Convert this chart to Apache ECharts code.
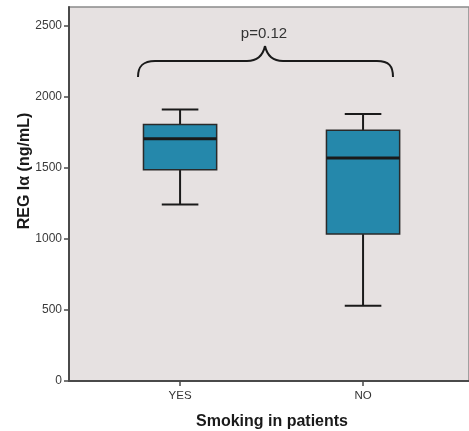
<!DOCTYPE html>
<html><head><meta charset="utf-8">
<script src="https://cdn.jsdelivr.net/npm/echarts@6/dist/echarts.min.js"></script>
<style>html,body{margin:0;padding:0;background:#fff}#c{width:469px;height:431px}</style>
</head><body><div id="c"></div>
<script>
const categories = ['YES', 'NO'];
const whiskerLow = [1242, 530];
const q1 = [1486, 1033];
const median = [1704, 1568];
const q3 = [1803, 1763];
const whiskerHigh = [1910, 1878];
const yTicks = [0, 500, 1000, 1500, 2000, 2500];
const pLabel = 'p=0.12';
const xName = 'Smoking in patients';
const yName = 'REG I\u03b1 (ng/mL)';

const FONT = '"Liberation Sans", Arial, sans-serif';
const chart = echarts.init(document.getElementById('c'), null, {renderer: 'canvas'});

const boxData = categories.map((c, i) => [i + 1, whiskerLow[i], q1[i], median[i], q3[i], whiskerHigh[i]]);

function renderBox(params, api) {
  const x = api.value(0);
  const pLow = api.coord([x, api.value(1)]);
  const pQ1 = api.coord([x, api.value(2)]);
  const pMed = api.coord([x, api.value(3)]);
  const pQ3 = api.coord([x, api.value(4)]);
  const pHigh = api.coord([x, api.value(5)]);
  const w = api.size([0.4, 0])[0];
  const hw = w / 2, cw = w / 4;
  const cx = pMed[0];
  const line = (x1, y1, x2, y2, lw) => ({
    type: 'line', shape: {x1, y1, x2, y2},
    style: {stroke: '#1a1a1a', lineWidth: lw}
  });
  return {
    type: 'group',
    children: [
      line(cx, pQ3[1], cx, pHigh[1], 2),
      line(cx, pQ1[1], cx, pLow[1], 2),
      line(cx - cw, pHigh[1], cx + cw, pHigh[1], 2),
      line(cx - cw, pLow[1], cx + cw, pLow[1], 2),
      {type: 'rect', shape: {x: cx - hw, y: pQ3[1], width: w, height: pQ1[1] - pQ3[1]},
       style: {fill: '#2588ab', stroke: '#2a2a2a', lineWidth: 1.5}},
      line(cx - hw, pMed[1], cx + hw, pMed[1], 3)
    ]
  };
}

const braceStyle = {fill: null, stroke: '#1a1a1a', lineWidth: 2};
function bez(x1, y1, cpx1, cpy1, cpx2, cpy2, x2, y2) {
  return {type: 'bezierCurve', z: 10, shape: {x1, y1, cpx1, cpy1, cpx2, cpy2, x2, y2}, style: braceStyle};
}
function seg(x1, y1, x2, y2) {
  return {type: 'line', z: 10, shape: {x1, y1, x2, y2}, style: braceStyle};
}

const option = {
  backgroundColor: '#ffffff',
  animation: false,
  grid: {left: 69, right: 0, top: 7, bottom: 50, show: true,
         backgroundColor: '#e6e1e1', borderColor: '#8a8a8a', borderWidth: 1.5},
  xAxis: {
    type: 'value', min: 0.393, max: 2.579,
    splitLine: {show: false},
    axisLine: {show: true, onZero: false, lineStyle: {color: '#4a4a4a', width: 2}},
    axisTick: {show: true, length: 5, customValues: [1, 2], lineStyle: {color: '#4a4a4a', width: 1.5}},
    axisLabel: {show: true, customValues: [1, 2], margin: 9, fontSize: 11.5, color: '#333',
                fontFamily: FONT, formatter: v => categories[Math.round(v) - 1]}
  },
  yAxis: {
    type: 'value', min: 0, max: 2630,
    splitLine: {show: false},
    axisLine: {show: true, lineStyle: {color: '#4a4a4a', width: 2}},
    axisTick: {show: true, length: 5, customValues: yTicks, lineStyle: {color: '#4a4a4a', width: 1.5}},
    axisLabel: {show: true, customValues: yTicks, margin: 7, fontSize: 12, color: '#3a3a3a', fontFamily: FONT,
                formatter: v => String(v)}
  },
  series: [{
    type: 'custom',
    renderItem: renderBox,
    data: boxData,
    encode: {x: 0, y: [1, 2, 3, 4, 5]},
    z: 5
  }],
  graphic: [
    bez(138, 77, 138, 66, 143, 61, 155, 61),
    seg(155, 61, 247, 61),
    bez(247, 61, 258, 61, 263, 55, 265, 46),
    bez(265, 46, 267, 55, 272, 61, 283, 61),
    seg(283, 61, 377, 61),
    bez(377, 61, 389, 61, 393, 66, 393, 77),
    {type: 'text', z: 10, x: 264, y: 34,
     style: {text: pLabel, fontSize: 15, fill: '#333', fontFamily: FONT, align: 'center', verticalAlign: 'middle'}},
    {type: 'text', z: 10, x: 272, y: 422,
     style: {text: xName, fontSize: 16, fontWeight: 'bold', fill: '#1a1a1a', fontFamily: FONT, align: 'center', verticalAlign: 'middle'}},
    {type: 'text', z: 10, x: 25, y: 171, rotation: Math.PI / 2,
     style: {text: yName, fontSize: 16, fontWeight: 'bold', fill: '#1a1a1a', fontFamily: FONT, align: 'center', verticalAlign: 'middle'}}
  ]
};
chart.setOption(option);
</script></body></html>
